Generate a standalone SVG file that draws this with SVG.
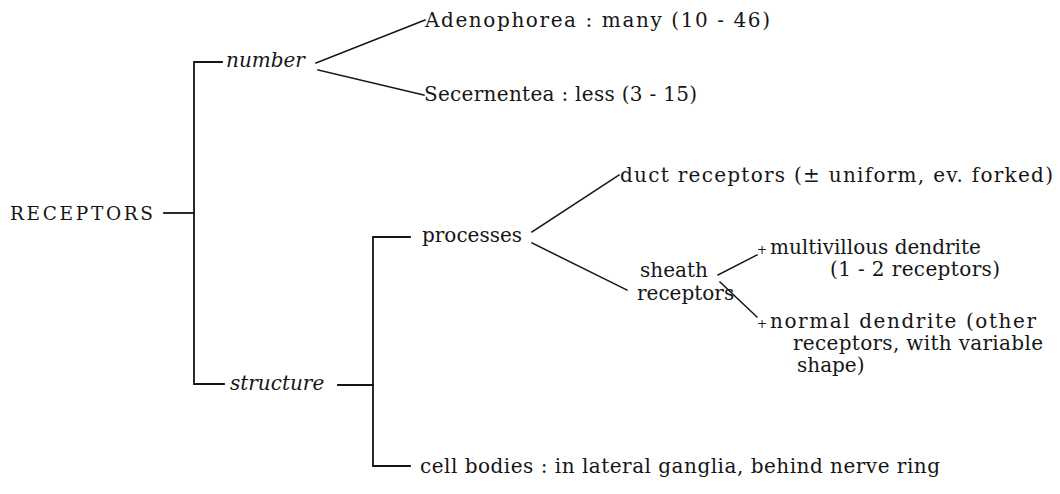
<svg xmlns="http://www.w3.org/2000/svg" width="1060" height="494" viewBox="0 0 1060 494">
  <style>
    text { font-family: "DejaVu Serif", "Liberation Serif", serif; font-size: 20px; fill: #161616; }
    .it { font-style: italic; }
    .ln { stroke: #161616; stroke-width: 1.8; fill: none; stroke-linecap: square; }
    .thin { stroke-width: 1.5; }
    .plus { font-size: 12px; }
  </style>
  <rect width="1060" height="494" fill="#ffffff"/>

  <!-- connectors -->
  <g id="connectors">
    <!-- root bracket -->
    <path class="ln" d="M164 213 H194"/>
    <path class="ln" d="M222 62 H194 V384 H224"/>
    <!-- number fork -->
    <path class="ln thin" d="M316 63 L425 20"/>
    <path class="ln thin" d="M318 70 L424 95"/>
    <!-- structure bracket -->
    <path class="ln" d="M338 385 H373"/>
    <path class="ln" d="M410 237 H373 V466 H410"/>
    <!-- processes fork -->
    <path class="ln thin" d="M532 232 L619 175"/>
    <path class="ln thin" d="M532 243 L627 290"/>
    <!-- sheath receptors fork -->
    <path class="ln thin" d="M718 275 L757 255"/>
    <path class="ln thin" d="M720 282 L757 317"/>
  </g>

  <g id="node-receptors">
    <text x="10" y="220" textLength="143" lengthAdjust="spacing" style="font-size:18.5px">RECEPTORS</text>
  </g>

  <g id="node-number">
    <text class="it" x="226" y="67">number</text>
  </g>
  <g id="node-adenophorea">
    <text x="425" y="27" textLength="345" lengthAdjust="spacing">Adenophorea : many (10 - 46)</text>
  </g>
  <g id="node-secernentea">
    <text x="424" y="101" textLength="273" lengthAdjust="spacing">Secernentea : less (3 - 15)</text>
  </g>

  <g id="node-structure">
    <text class="it" x="230" y="390">structure</text>
  </g>
  <g id="node-processes">
    <text x="422" y="242">processes</text>
  </g>
  <g id="node-duct">
    <text x="620" y="182" textLength="433" lengthAdjust="spacing">duct receptors (± uniform, ev. forked)</text>
  </g>
  <g id="node-sheath">
    <text x="640" y="277">sheath</text>
    <text x="637" y="300">receptors</text>
  </g>
  <g id="node-multivillous">
    <text class="plus" x="757" y="254">+</text>
    <text x="770" y="254">multivillous dendrite</text>
    <text x="830" y="276" textLength="170" lengthAdjust="spacing">(1 - 2 receptors)</text>
  </g>
  <g id="node-normal">
    <text class="plus" x="757" y="328">+</text>
    <text x="770" y="328" textLength="266" lengthAdjust="spacing">normal dendrite (other</text>
    <text x="793" y="350" textLength="250" lengthAdjust="spacing">receptors, with variable</text>
    <text x="797" y="372">shape)</text>
  </g>
  <g id="node-cellbodies">
    <text x="420" y="473" textLength="520" lengthAdjust="spacing">cell bodies : in lateral ganglia, behind nerve ring</text>
  </g>
</svg>
